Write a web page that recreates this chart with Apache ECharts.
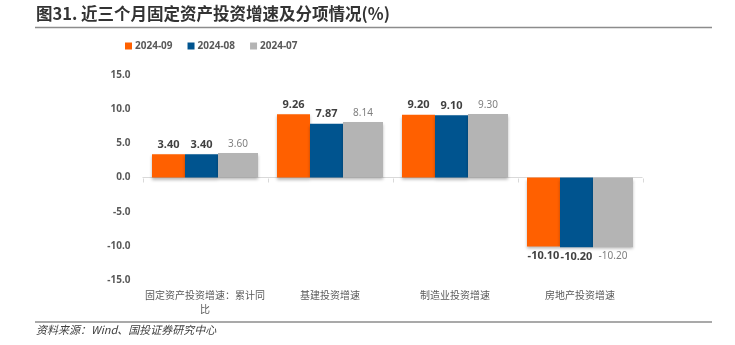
<!DOCTYPE html>
<html>
<head>
<meta charset="utf-8">
<script src="https://cdn.jsdelivr.net/npm/echarts@6/dist/echarts.min.js"></script>
<style>
  html, body { margin: 0; padding: 0; background: #fff; }
  #chart { width: 735px; height: 345px; }
</style>
</head>
<body>
<div id="chart"></div>
<script>
// Fixed-asset investment growth and its components, last three months (%)
const categories = ['固定资产投资增速：累计同比', '基建投资增速', '制造业投资增速', '房地产投资增速'];
const seriesNames = ['2024-09', '2024-08', '2024-07'];
const sep2024 = [3.40, 9.26, 9.20, -10.10];
const aug2024 = [3.40, 7.87, 9.10, -10.20];
const jul2024 = [3.60, 8.14, 9.30, -10.20];
const yTicks = { min: -15, max: 15, step: 5 };

const colors = ['#FF6000', '#00548F', '#B4B4B4'];
const numFont = '"Noto Sans", "Open Sans", sans-serif';
const cjkFont = '"Noto Sans CJK SC", sans-serif';
const baseColor = '#d9d9d9';

const chart = echarts.init(document.getElementById('chart'), null, { renderer: 'canvas' });

function barSeries(name, values, idx, width, strong) {
  return {
    name: name,
    type: 'bar',
    data: values.map(v => v < 0 ? { value: v, label: { position: 'bottom' } } : v),
    barWidth: width,
    barGap: '0%',
    itemStyle: {
      color: colors[idx],
      shadowColor: 'rgba(0,0,0,0.28)',
      shadowBlur: 3,
      shadowOffsetY: 2
    },
    label: {
      show: true,
      position: 'top',
      distance: 4,
      fontFamily: numFont,
      fontSize: strong ? 11 : 10,
      fontWeight: strong ? 'bold' : 'normal',
      color: strong ? '#404040' : '#7f7f7f',
      formatter: p => p.value.toFixed(2)
    }
  };
}

const staticGraphics = [
  {
    type: 'text',
    left: 36,
    top: 5,
    style: {
      text: '图31. 近三个月固定资产投资增速及分项情况(%)',
      font: 'bold 16.5px "Noto Sans CJK SC", sans-serif',
      fill: '#333333'
    }
  },
  {
    type: 'line',
    shape: { x1: 35, y1: 27.5, x2: 712, y2: 27.5 },
    style: { stroke: '#8c8c8c', lineWidth: 1.5 }
  },
  {
    type: 'line',
    shape: { x1: 35, y1: 322, x2: 712, y2: 322 },
    style: { stroke: '#8c8c8c', lineWidth: 1.5 }
  },
  {
    type: 'text',
    left: 36,
    top: 324,
    style: {
      text: '资料来源：Wind、国投证券研究中心',
      font: 'italic 11px "Noto Sans CJK SC", sans-serif',
      fill: '#404040'
    }
  }
];

const series = [
  barSeries(seriesNames[0], sep2024, 0, 33, true),
  barSeries(seriesNames[1], aug2024, 1, 33, true),
  barSeries(seriesNames[2], jul2024, 2, 40, false)
];
// zero baseline across the plot
series[0].markLine = {
  silent: true,
  symbol: 'none',
  z: 1,
  label: { show: false },
  lineStyle: { color: baseColor, width: 1, type: 'solid' },
  data: [{ yAxis: 0 }]
};

chart.setOption({
  animation: false,
  backgroundColor: '#ffffff',
  textStyle: { fontFamily: cjkFont },
  legend: {
    data: seriesNames,
    left: 120,
    top: 36,
    icon: 'rect',
    itemWidth: 7,
    itemHeight: 7,
    itemGap: 15,
    textStyle: { fontFamily: numFont, fontSize: 10, fontWeight: 'bold', color: '#595959', padding: [0, 0, 0, -2] }
  },
  grid: { left: 142.5, right: 92.5, top: 75, bottom: 65, containLabel: false },
  xAxis: {
    type: 'category',
    data: categories,
    position: 'bottom',
    axisLine: { show: false, onZero: false },
    axisTick: { show: false },
    splitLine: { show: false },
    axisLabel: {
      interval: 0,
      margin: 8,
      width: 122,
      overflow: 'break',
      lineHeight: 14,
      fontFamily: cjkFont,
      fontSize: 10,
      color: '#595959'
    }
  },
  yAxis: {
    type: 'value',
    min: yTicks.min,
    max: yTicks.max,
    interval: yTicks.step,
    axisLine: { show: false },
    axisTick: { show: false },
    splitLine: { show: false },
    axisLabel: {
      margin: 12,
      fontFamily: numFont,
      fontSize: 10,
      fontWeight: 'bold',
      color: '#595959',
      formatter: v => v.toFixed(1)
    }
  },
  series: series,
  graphic: staticGraphics
});

// short separators hanging below the zero line at each category boundary
const c0 = chart.convertToPixel({ xAxisIndex: 0 }, categories[0]);
const c1 = chart.convertToPixel({ xAxisIndex: 0 }, categories[1]);
const band = c1 - c0;
const y0 = Math.round(chart.convertToPixel({ yAxisIndex: 0 }, 0)) + 0.5;
const ticks = [];
for (let i = 0; i <= categories.length; i++) {
  const x = Math.round(c0 - band / 2 + i * band) + 0.5;
  ticks.push({
    type: 'line',
    z: 10,
    shape: { x1: x, y1: y0, x2: x, y2: y0 + 4 },
    style: { stroke: baseColor, lineWidth: 1 }
  });
}
chart.setOption({ graphic: staticGraphics.concat(ticks) });
</script>
</body>
</html>
